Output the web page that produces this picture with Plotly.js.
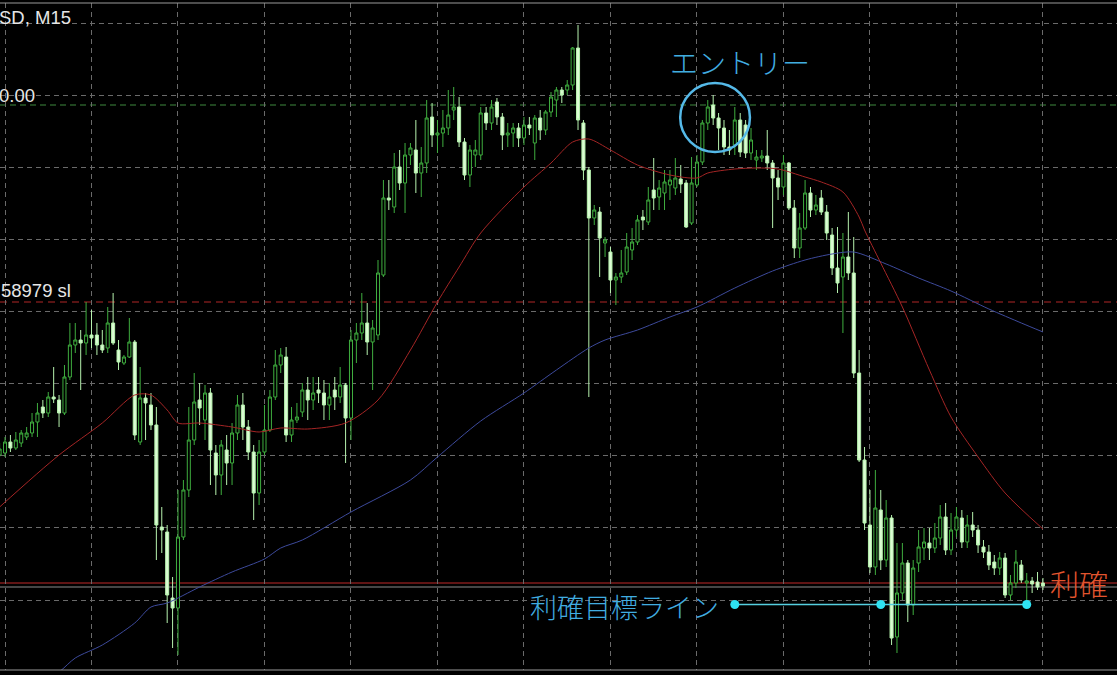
<!DOCTYPE html>
<html><head><meta charset="utf-8">
<script src="https://cdn.plot.ly/plotly-3.0.1.min.js"></script>
<style>html,body{margin:0;padding:0;background:#000;overflow:hidden}#chart{width:1117px;height:675px}</style>
</head><body><div id="chart"></div>
<script>
// Price values in chart points (higher = higher price).
const open = [220,222,233,227,232,238,242,253,268,262, 278,275,262,298,330,335,332,340,340,330,
 327,352,325,312,318,333,233,277,270,250, 148,143,77,67,138,185,235,275,255,282,
 222,200,225,212,242,270,248,223,182,223, 245,278,310,318,240,255,263,285,275,285,
 282,270,285,278,290,257,335,342,352,333, 340,400,477,468,508,492,520,525,502,512,
 558,540,542,547,565,568,533,500,520,520, 562,552,573,558,540,542,547,537,550,532,
 557,545,563,575,585,585,590,627,552,505, 457,463,432,423,395,398,403,425,433,458,
 453,485,478,482,490,487,496,492,452,490, 513,552,570,557,547,528,530,555,550,522,
 515,517,519,512,497,488,512,467,427,447, 482,465,477,463,440,407,398,418,402,302,
 215,150,108,165,115,157,38,82,112,70, 112,127,132,127,137,158,125,145,157,133,
 150,145,128,123,113,107,117,80,92,110, 92,94,93,92];
const high = [232,238,240,243,245,248,262,272,275,283, 308,280,310,352,352,345,373,365,352,345,
 368,382,335,320,357,335,308,282,282,268, 168,150,98,185,195,268,302,292,290,287,
 230,235,240,252,280,282,255,230,235,270, 285,325,327,328,268,272,292,298,298,298,
 295,292,298,308,292,345,352,382,372,355, 415,495,495,522,525,532,532,555,528,575,
 572,555,565,585,588,578,537,530,535,568, 568,575,577,562,552,552,552,558,558,560,
 565,565,583,588,588,595,628,650,555,508, 470,468,438,428,402,425,442,447,460,465,
 488,517,495,505,505,517,510,495,518,520, 555,575,580,562,555,545,568,562,555,547,
 525,525,545,515,505,520,513,475,462,495, 488,480,485,470,447,448,442,463,438,325,
 228,185,205,185,175,160,132,132,115,115, 145,147,147,152,170,172,162,168,165,160,
 163,150,135,130,120,123,122,100,125,115, 102,98,103,97];
const low = [218,218,223,225,228,235,238,238,257,258, 272,248,260,295,322,285,320,327,320,322,
 322,330,305,310,317,235,230,235,245,115, 122,52,27,20,135,178,230,250,235,190,
 180,180,190,190,235,235,215,155,170,220, 243,275,302,233,233,252,258,255,265,272,
 255,255,265,272,212,235,312,335,320,285, 335,398,465,462,485,462,510,482,478,502,
 528,522,528,540,555,528,495,488,508,515, 545,545,550,525,528,528,528,530,540,515,
 535,540,558,558,572,580,585,545,495,278, 450,398,418,382,370,392,400,415,430,445,
 450,465,465,465,475,480,482,447,450,488, 510,545,550,525,520,520,520,518,517,515,
 505,513,505,447,475,480,465,417,417,445, 458,460,460,435,400,382,342,395,297,213,
 145,102,100,105,108,30,22,75,53,60, 103,115,115,122,130,120,120,138,127,127,
 138,122,117,105,100,100,77,75,87,92, 75,82,85,85];
const close = [226,233,227,235,242,242,253,262,262,278, 276,262,298,330,335,332,340,337,330,325,
 352,332,313,318,333,240,277,272,250,150, 145,80,67,138,185,235,273,267,282,225,
 200,230,212,242,270,248,223,182,223,245, 278,310,320,240,255,258,285,275,282,282,
 270,278,278,290,257,335,342,352,333,347, 402,477,475,508,492,520,527,502,512,557,
 540,542,547,560,568,533,500,525,525,562, 552,568,558,540,542,547,537,550,547,557,
 545,563,578,585,580,590,627,555,505,457, 465,437,435,395,398,402,428,433,455,455,
 475,477,487,493,495,497,491,448,492,513, 552,568,557,547,528,525,555,523,522,535,
 518,519,512,497,488,512,467,427,447,482, 465,470,463,442,407,392,418,402,302,215,
 152,108,167,115,157,37,82,112,70,107, 128,133,127,137,158,125,145,158,133,150,
 145,130,123,110,107,117,80,92,113,95, 94,91,88,89];

// Moving averages (bar index, value)
const maFastBar = [0,11,19,25,28,31,33,37,43,48,52,57,64,70,76,81,85,89,97,102,106,109,113,118,124,129,131,136,140,144,149,152,156,159,160,163,167,172,176,181,186,193];
const maFastVal = [168,220,252,280,280,265,252,252,248,243,247,246,252,275,325,373,408,442,488,512,533,536,525,510,500,497,502,506,507,506,498,493,483,458,445,412,368,305,258,218,182,146];
const maSlowBar = [5,11,14,19,25,28,31,37,43,49,52,56,65,76,81,89,97,103,109,112,118,124,129,136,143,149,154,158,164,170,176,183,189,193];
const maSlowVal = [-17,3,17,30,52,68,72,88,103,116,127,135,163,195,218,254,282,305,327,335,345,358,368,387,404,415,421,423,411,397,384,366,352,343];

// Horizontal levels
const entryLevel = 570;
const slLevel = 373;
const tpLevel = 92;
const bidLevel = 88;
// Take-profit target line anchors
const tpLineBar = [136, 163, 190];
const tpLineVal = [70.5, 70.5, 70.5];

// Labels
const symbolLabel = 'SD, M15';
const entryLabel = '0.00';
const slLabel = '58979 sl';
const entryNote = 'エントリー';
const tpNote = '利確目標ライン';
const tpTag = '利確';

const bars = open.map((_, i) => i);

const traces = [
  { type: 'scatter', mode: 'lines', x: maSlowBar, y: maSlowVal, line: {color: '#3d4a9c', width: 1, shape: 'spline', smoothing: 0.8}, hoverinfo: 'skip' },
  { type: 'scatter', mode: 'lines', x: maFastBar, y: maFastVal, line: {color: '#a52525', width: 1, shape: 'spline', smoothing: 0.8}, hoverinfo: 'skip' },
  { type: 'candlestick', x: bars, open: open, high: high, low: low, close: close,
    increasing: {line: {color: '#3fae3f', width: 1}, fillcolor: '#000000'},
    decreasing: {line: {color: '#b6f2ae', width: 1}, fillcolor: '#dcfcd4'},
    whiskerwidth: 0, hoverinfo: 'skip' },
  { type: 'scatter', mode: 'lines+markers', x: tpLineBar, y: tpLineVal,
    line: {color: '#55cfe0', width: 1.5}, marker: {size: 9, color: '#2fe2f2'}, hoverinfo: 'skip' }
];

const cjk = '"Noto Sans CJK JP", "Noto Sans", sans-serif';
const lat = '"Liberation Sans", Arial, sans-serif';

const layout = {
  width: 1117, height: 675,
  margin: {l: 0, r: 0, t: 3, b: 5},
  paper_bgcolor: '#000000', plot_bgcolor: '#000000',
  showlegend: false, hovermode: false, boxgap: 0.2,
  xaxis: {range: [0.074, 206.7], showgrid: true, gridcolor: '#6a6a6a', griddash: '5px,4px', gridwidth: 1,
          tick0: 1, dtick: 16, showticklabels: false, ticks: '', zeroline: false, showline: false,
          rangeslider: {visible: false}, fixedrange: true},
  yaxis: {range: [5, 672], showgrid: true, gridcolor: '#6a6a6a', griddash: '5px,4px', gridwidth: 1,
          tick0: 75, dtick: 72.125, showticklabels: false, ticks: '', zeroline: false, showline: false, fixedrange: true},
  shapes: [
    {type: 'line', xref: 'paper', yref: 'y', x0: 0, x1: 1, y0: entryLevel, y1: entryLevel, line: {color: '#3f8a3f', width: 1, dash: '6px,4px'}, layer: 'below'},
    {type: 'line', xref: 'paper', yref: 'y', x0: 0, x1: 1, y0: slLevel, y1: slLevel, line: {color: '#b02626', width: 1, dash: '7px,5px'}, layer: 'below'},
    {type: 'line', xref: 'paper', yref: 'y', x0: 0, x1: 1, y0: tpLevel, y1: tpLevel, line: {color: '#c02828', width: 1}, layer: 'below'},
    {type: 'line', xref: 'paper', yref: 'y', x0: 0, x1: 1, y0: bidLevel, y1: bidLevel, line: {color: '#8c8c8c', width: 1}, layer: 'below'},
    {type: 'line', xref: 'paper', yref: 'paper', x0: 0, x1: 1, y0: 1, y1: 1, line: {color: '#9a9a9a', width: 1}},
    {type: 'line', xref: 'paper', yref: 'paper', x0: 0, x1: 1, y0: 0, y1: 0, line: {color: '#9a9a9a', width: 1}},
    {type: 'circle', xref: 'x', yref: 'y', x0: 125.9, x1: 138.8, y0: 523, y1: 592, line: {color: '#55b9e8', width: 2.5}}
  ],
  annotations: [
    {xref: 'paper', yref: 'paper', x: 0, y: 0.979, xanchor: 'left', yanchor: 'middle', showarrow: false, text: symbolLabel, font: {family: lat, size: 18.5, color: '#e6e6e6'}, xshift: -3},
    {xref: 'paper', yref: 'paper', x: 0, y: 0.8606, xanchor: 'left', yanchor: 'middle', showarrow: false, text: entryLabel, font: {family: lat, size: 18.5, color: '#e6e6e6'}, xshift: -3},
    {xref: 'paper', yref: 'paper', x: 0, y: 0.5697, xanchor: 'left', yanchor: 'middle', showarrow: false, text: slLabel, font: {family: lat, size: 18.5, color: '#e6e6e6'}, xshift: -1},
    {xref: 'paper', yref: 'paper', x: 0.6625, y: 0.9115, xanchor: 'center', yanchor: 'middle', showarrow: false, text: entryNote, font: {family: cjk, size: 28, color: '#41ade0', weight: 300}},
    {xref: 'paper', yref: 'paper', x: 0.5595, y: 0.0945, xanchor: 'center', yanchor: 'middle', showarrow: false, text: tpNote, font: {family: cjk, size: 27, color: '#41ade0', weight: 300}},
    {xref: 'paper', yref: 'paper', x: 0.938, y: 0.131, xanchor: 'left', yanchor: 'middle', showarrow: false, text: tpTag, font: {family: cjk, size: 29, color: '#e2552e', weight: 300}}
  ]
};

Plotly.newPlot('chart', traces, layout, {staticPlot: true, displayModeBar: false});
</script>
</body></html>
